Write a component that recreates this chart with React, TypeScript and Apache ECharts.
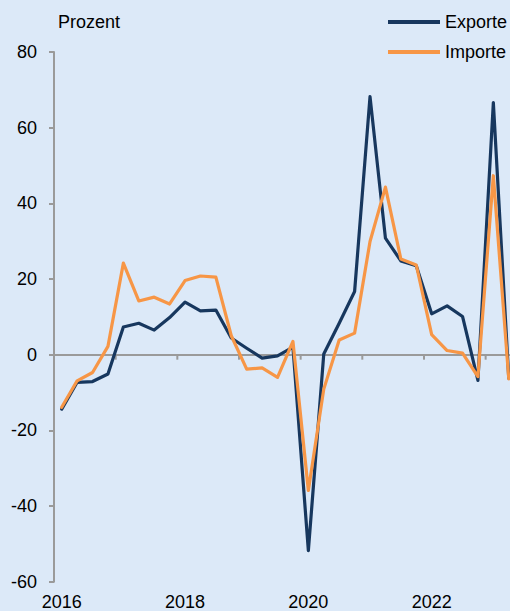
import React, { useEffect, useRef } from "react";
import * as echarts from "echarts";

const quarters: string[] = [];
for (let y = 2016; y <= 2023; y++) {
  for (let q = 1; q <= 4; q++) quarters.push(`${y}Q${q}`);
}

const exporte = [
  -14.4, -7.3, -7.1, -5.1, 7.3, 8.3, 6.5, 9.8, 13.9, 11.6, 11.8, 4.4, 1.7, -0.9, -0.3, 2.0,
  -51.8, 0.2, 8.3, 16.7, 68.2, 30.8, 24.8, 23.5, 10.8, 12.9, 10.1, -6.8, 66.6, -6.2,
];
const importe = [
  -13.9, -6.9, -4.7, 2.2, 24.2, 14.2, 15.2, 13.4, 19.6, 20.8, 20.5, 5.0, -3.8, -3.5, -6.0, 3.5,
  -35.9, -9.1, 3.9, 5.7, 29.9, 44.3, 25.3, 23.7, 5.3, 1.1, 0.4, -5.8, 47.3, -6.4,
];
// category indices (first quarter of each year) where a year tick sits on the zero line
const yearStartIdx = [4, 8, 12, 16, 20, 24, 28];

const Y_MIN = -60;
const Y_MAX = 80;

const FONT = "Liberation Sans, Arial, sans-serif";
const AXIS_GRAY = "#9a9a9a";
const NAVY = "#17375e";
const ORANGE = "#f79646";
const BG = "#dce9f8";

export default function App() {
  const ref = useRef<HTMLDivElement>(null);
  useEffect(() => {
    if (!ref.current) return;
    const chart = echarts.init(ref.current, undefined, { renderer: "svg" });
    chart.setOption({
      animation: false,
      backgroundColor: BG,
      textStyle: { fontFamily: FONT },
      grid: { left: 54, top: 52, width: 493.3, height: 529.7, containLabel: false },
      graphic: [
        {
          type: "text",
          left: 58,
          top: 13,
          style: { text: "Prozent", font: `18px ${FONT}`, fill: "#000" },
        },
      ],
      legend: {
        orient: "vertical",
        left: 388,
        top: 13,
        padding: 0,
        itemWidth: 52,
        itemHeight: 4,
        itemGap: 12,
        icon: "rect",
        textStyle: { fontSize: 18, color: "#000", fontFamily: FONT },
        data: ["Exporte", "Importe"],
      },
      xAxis: [
        {
          type: "category",
          data: quarters,
          position: "bottom",
          boundaryGap: true,
          axisLine: { show: false, onZero: false },
          axisTick: { show: false },
          axisLabel: {
            interval: 7,
            fontSize: 18,
            color: "#000",
            margin: 11,
            fontFamily: FONT,
            formatter: (v: string) => v.slice(0, 4),
          },
          splitLine: { show: false },
        },
        {
          type: "category",
          data: quarters,
          position: "bottom",
          boundaryGap: true,
          axisLine: { show: true, onZero: true, lineStyle: { color: AXIS_GRAY, width: 2 } },
          axisTick: { show: false },
          axisLabel: { show: false },
          splitLine: { show: false },
        },
      ],
      yAxis: {
        type: "value",
        min: Y_MIN,
        max: Y_MAX,
        interval: 20,
        axisLine: { show: true, lineStyle: { color: AXIS_GRAY, width: 2 } },
        axisTick: { show: true, length: 5, lineStyle: { color: AXIS_GRAY, width: 2 } },
        axisLabel: { fontSize: 18, color: "#000", margin: 17, fontFamily: FONT },
        splitLine: { show: false },
      },
      series: [
        {
          name: "zeroTicks",
          type: "custom",
          xAxisIndex: 0,
          silent: true,
          clip: false,
          z: 1,
          data: yearStartIdx.map((i) => [i, 0]),
          renderItem: (params: any, api: any) => {
            const p = api.coord([api.value(0), api.value(1)]);
            const bw = api.size([1, 0])[0];
            const x = p[0] - bw / 2;
            return {
              type: "line",
              shape: { x1: x, y1: p[1], x2: x, y2: p[1] + 5 },
              style: { stroke: AXIS_GRAY, lineWidth: 2 },
            };
          },
        },
        {
          name: "Exporte",
          type: "line",
          xAxisIndex: 0,
          data: exporte,
          symbol: "none",
          color: NAVY,
          lineStyle: { color: NAVY, width: 3.2, join: "round", cap: "round" },
        },
        {
          name: "Importe",
          type: "line",
          xAxisIndex: 0,
          data: importe,
          symbol: "none",
          color: ORANGE,
          lineStyle: { color: ORANGE, width: 3.2, join: "round", cap: "round" },
        },
      ],
    });
    return () => chart.dispose();
  }, []);
  return (
    <div
      style={{
        position: "fixed",
        left: 0,
        top: 0,
        width: 510,
        height: 611,
        overflow: "hidden",
        background: BG,
      }}
    >
      <div ref={ref} style={{ width: 548, height: 611 }} />
    </div>
  );
}
